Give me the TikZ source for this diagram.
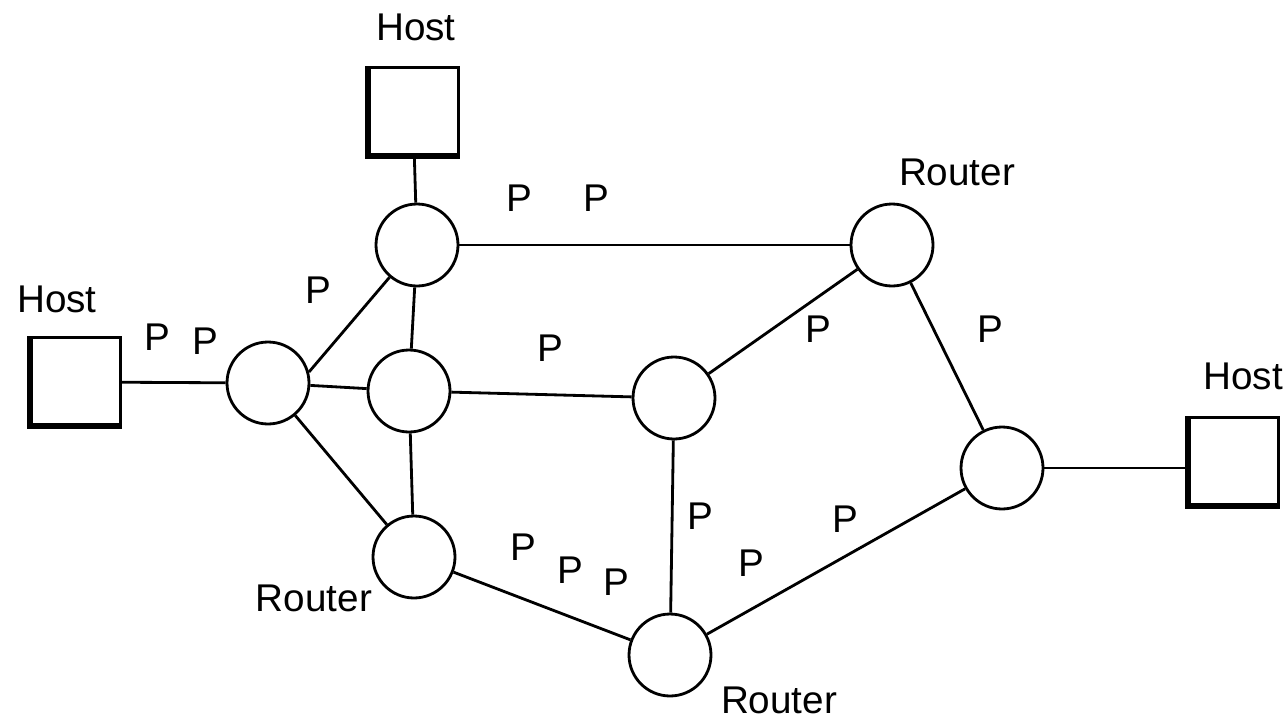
\documentclass[tikz,border=0pt]{standalone}
\usepackage{fontspec}
\setmainfont{Liberation Sans}
\begin{document}
\begin{tikzpicture}[x=0.02cm,y=-0.02cm,
  every node/.style={font=\fontsize{22}{26}\selectfont},
  router/.style={circle,draw,line width=1.6pt,minimum size=1.64cm,inner sep=0pt},
  host/.style={rectangle,draw,line width=1.6pt,minimum width=1.82cm,minimum height=1.78cm,inner sep=0pt},
  link/.style={line width=1.6pt},
  lbl/.style={inner sep=0pt},
  thickedge/.style={line width=3.8pt}]
\useasboundingbox (0,0) rectangle (1287,720);
% hosts
\node[host] (ht) at (413,112) {};
\node[host] (hl) at (75,382) {};
\node[host] (hr) at (1233,462) {};
\foreach \h in {ht,hl,hr}{
  \draw[thickedge] ([xshift=1.1pt]\h.north west) -- ([xshift=1.1pt,yshift=1.1pt]\h.south west) -- ([yshift=1.1pt]\h.south east);
}
% routers
\node[router] (r1) at (417,245) {};
\node[router] (r2) at (268,383) {};
\node[router] (r3) at (409,391) {};
\node[router] (r4) at (674,398) {};
\node[router] (r5) at (892,245) {};
\node[router] (r6) at (1002,468) {};
\node[router] (r7) at (414,557) {};
\node[router] (r8) at (670,655) {};
% links
\draw[link] (ht) -- (r1);
\draw[link] (hl) -- (r2);
\draw[link] (r6.east) -- (r6.east -| hr.west);
\draw[link] (r1) -- (r5);
\draw[link] (r2.15) -- (r1);
\draw[link] (r1) -- (r3);
\draw[link] (r2) -- (r3);
\draw[link] (r2) -- (r7);
\draw[link] (r3) -- (r4);
\draw[link] (r3) -- (r7);
\draw[link] (r4) -- (r5);
\draw[link] (r4) -- (r8);
\draw[link] (r5) -- (r6);
\draw[link] (r7) -- (r8);
\draw[link] (r8) -- (r6);
% labels
\node[lbl] (lht) at (416,27) {Host};
\node[lbl] (lhl) at (57,299) {Host};
\node[lbl] (lhr) at (1243,376) {Host};
\node[lbl] (lr5) at (957,172) {Router};
\node[lbl] (lr7) at (314,598) {Router};
\node[lbl] (lr8) at (779,700) {Router};
% P labels
\node[lbl] (p1) at (519,198) {P};
\node[lbl] (p2) at (596,198) {P};
\node[lbl] (p3) at (318,290) {P};
\node[lbl] (p4) at (157,337) {P};
\node[lbl] (p5) at (205,341) {P};
\node[lbl] (p6) at (550,348) {P};
\node[lbl] (p7) at (818,329) {P};
\node[lbl] (p8) at (990,329) {P};
\node[lbl] (p9) at (700,516) {P};
\node[lbl] (p10) at (845,519) {P};
\node[lbl] (p11) at (751,563) {P};
\node[lbl] (p12) at (523,547) {P};
\node[lbl] (p13) at (570,570) {P};
\node[lbl] (p14) at (616,582) {P};
\end{tikzpicture}
\end{document}
